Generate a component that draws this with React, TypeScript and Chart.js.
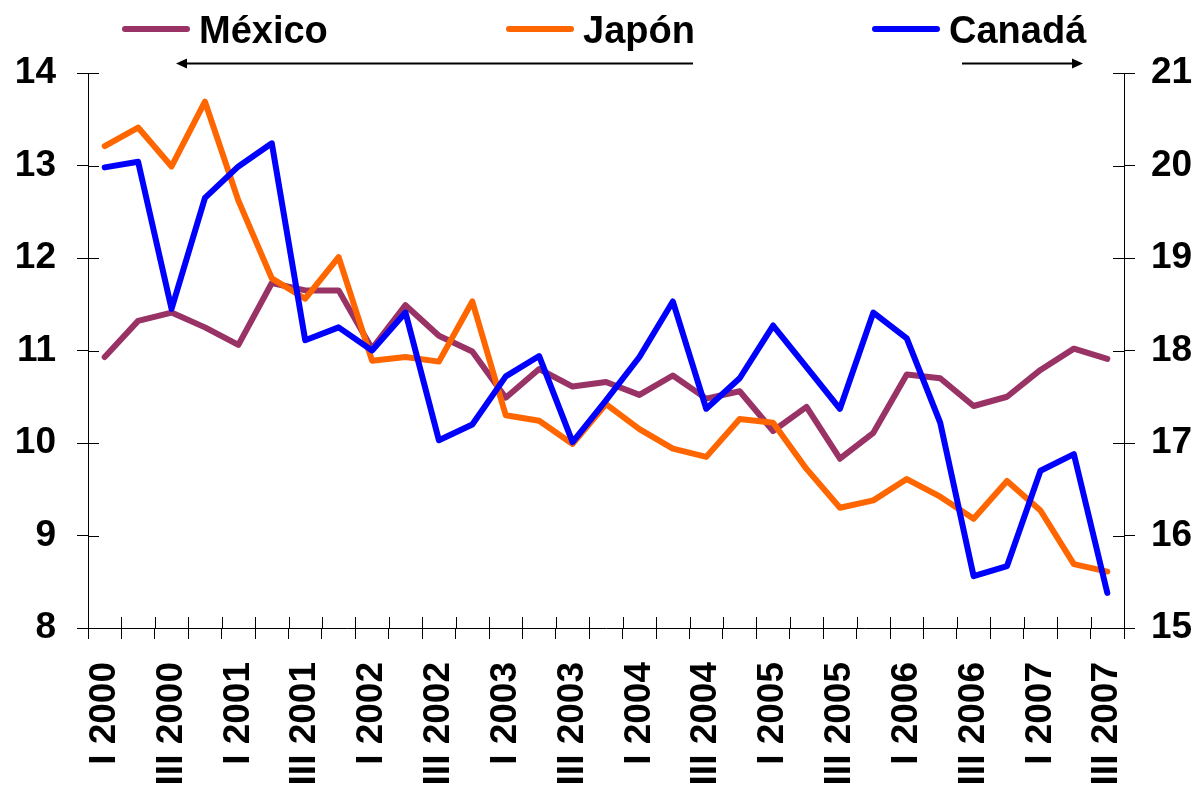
import React, { useEffect, useRef } from 'react';
import { Chart, registerables } from 'chart.js';

Chart.register(...registerables);

const categories = [
  'I 2000', 'II 2000', 'III 2000', 'IV 2000',
  'I 2001', 'II 2001', 'III 2001', 'IV 2001',
  'I 2002', 'II 2002', 'III 2002', 'IV 2002',
  'I 2003', 'II 2003', 'III 2003', 'IV 2003',
  'I 2004', 'II 2004', 'III 2004', 'IV 2004',
  'I 2005', 'II 2005', 'III 2005', 'IV 2005',
  'I 2006', 'II 2006', 'III 2006', 'IV 2006',
  'I 2007', 'II 2007', 'III 2007',
];

const mexico = [
  10.93, 11.32, 11.41, 11.25, 11.06, 11.73, 11.65, 11.65,
  11.02, 11.49, 11.16, 10.99, 10.49, 10.8, 10.61, 10.66,
  10.52, 10.73, 10.48, 10.56, 10.13, 10.39, 9.83, 10.11,
  10.74, 10.7, 10.4, 10.5, 10.79, 11.02, 10.91,
];

const japon = [
  13.21, 13.41, 12.99, 13.69, 12.62, 11.78, 11.56, 12.01,
  10.89, 10.93, 10.88, 11.53, 10.3, 10.24, 9.99, 10.42,
  10.15, 9.94, 9.85, 10.26, 10.22, 9.72, 9.3, 9.38,
  9.61, 9.42, 9.18, 9.59, 9.27, 8.69, 8.61,
];

const canada = [
  19.98, 20.04, 18.45, 19.65, 19.99, 20.24, 18.11, 18.25,
  18.0, 18.41, 17.03, 17.2, 17.72, 17.94, 17.01, 17.46,
  17.93, 18.53, 17.37, 17.7, 18.27, 17.82, 17.37, 18.41,
  18.13, 17.22, 15.56, 15.67, 16.7, 16.88, 15.38,
];

const seriesNames = ['México', 'Japón', 'Canadá'];
const seriesColors = ['#993366', '#FF6600', '#0000FF'];

const leftMin = 8;
const leftMax = 14;
const rightMin = 15;
const rightMax = 21;

const FONT = '"Liberation Sans", Arial, Helvetica, sans-serif';

const overlayPlugin = {
  id: 'overlay',
  afterDraw(chart: any) {
    const ctx = chart.ctx as CanvasRenderingContext2D;
    const { left, right, bottom } = chart.chartArea;
    const xs = chart.scales.x;
    const yl = chart.scales.y;
    const yr = chart.scales.y1;
    const tl = 11;
    ctx.save();
    ctx.strokeStyle = '#000';
    ctx.lineWidth = 1;
    const seg = (x1: number, y1: number, x2: number, y2: number) => {
      ctx.beginPath();
      ctx.moveTo(x1, y1);
      ctx.lineTo(x2, y2);
      ctx.stroke();
    };
    // inner halves of crossing tick marks
    const n = xs.ticks.length;
    const step = (right - left) / n;
    for (let i = 0; i <= n; i++) {
      const px = Math.round(left + i * step) + 0.5;
      seg(px, bottom - tl, px, bottom);
    }
    yl.ticks.forEach((t: any) => {
      const py = Math.round(yl.getPixelForValue(t.value)) + 0.5;
      seg(left, py, left + tl, py);
    });
    yr.ticks.forEach((t: any) => {
      const py = Math.round(yr.getPixelForValue(t.value)) + 0.5;
      seg(right - tl, py, right, py);
    });

    // legend
    const legendX = [122, 506, 872];
    const lineLen = 68;
    const lineY = 29;
    ctx.font = `bold 38px ${FONT}`;
    ctx.textBaseline = 'alphabetic';
    ctx.textAlign = 'left';
    chart.data.datasets.forEach((ds: any, i: number) => {
      const x0 = legendX[i];
      ctx.strokeStyle = ds.borderColor;
      ctx.lineWidth = 6;
      ctx.lineCap = 'round';
      seg(x0 + 3, lineY, x0 + lineLen - 3, lineY);
      ctx.fillStyle = '#000';
      ctx.fillText(ds.label, x0 + lineLen + 9, 43);
    });

    // axis arrows
    ctx.strokeStyle = '#000';
    ctx.fillStyle = '#000';
    ctx.lineWidth = 2;
    ctx.lineCap = 'butt';
    const arrowY = 63.5;
    const arrow = (from: number, to: number) => {
      const dir = to > from ? 1 : -1;
      seg(from, arrowY, to - dir * 8, arrowY);
      ctx.beginPath();
      ctx.moveTo(to, arrowY);
      ctx.lineTo(to - dir * 11, arrowY - 5);
      ctx.lineTo(to - dir * 11, arrowY + 5);
      ctx.closePath();
      ctx.fill();
    };
    arrow(693, 176);
    arrow(962, 1083);
    ctx.restore();
  },
};

export default function App() {
  const canvasRef = useRef<HTMLCanvasElement | null>(null);

  useEffect(() => {
    if (!canvasRef.current) return;
    Chart.defaults.font.family = FONT;
    const ds = [mexico, japon, canada].map((data, i) => ({
      label: seriesNames[i],
      data,
      borderColor: seriesColors[i],
      backgroundColor: seriesColors[i],
      borderWidth: 6,
      pointRadius: 0,
      pointHoverRadius: 0,
      tension: 0,
      fill: false,
      borderJoinStyle: 'round' as const,
      borderCapStyle: 'round' as const,
      yAxisID: i === 2 ? 'y1' : 'y',
      order: 3 - i,
    }));

    const tickFont = { size: 37, weight: 'bold' as const, family: FONT };

    const chart = new Chart(canvasRef.current, {
      type: 'line',
      data: { labels: categories, datasets: ds },
      options: {
        animation: false,
        responsive: false,
        layout: { padding: { top: 73, left: 15, right: 9, bottom: 0 } },
        plugins: {
          legend: { display: false },
          tooltip: { enabled: false },
        },
        scales: {
          x: {
            type: 'category',
            offset: true,
            afterFit: (s: any) => { s.height = 157; s.paddingLeft = 0; s.paddingRight = 0; },
            grid: {
              offset: true,
              drawOnChartArea: false,
              drawTicks: true,
              tickLength: 11,
              color: '#000',
            },
            border: { display: true, color: '#000', width: 1 },
            ticks: {
              autoSkip: false,
              maxRotation: 90,
              minRotation: 90,
              padding: 23,
              color: '#000',
              font: tickFont,
              callback: (_v: any, index: number) => (index % 2 === 0 ? categories[index] : ''),
            },
          },
          y: {
            position: 'left',
            min: leftMin,
            max: leftMax,
            afterFit: (s: any) => { s.width = 73; s.paddingTop = 0; s.paddingBottom = 0; },
            grid: { drawOnChartArea: false, drawTicks: true, tickLength: 11, color: '#000' },
            border: { display: true, color: '#000', width: 1 },
            ticks: { stepSize: 1, padding: 21, color: '#000', font: tickFont },
          },
          y1: {
            position: 'right',
            min: rightMin,
            max: rightMax,
            afterFit: (s: any) => { s.width = 68; s.paddingTop = 0; s.paddingBottom = 0; },
            grid: { drawOnChartArea: false, drawTicks: true, tickLength: 11, color: '#000' },
            border: { display: true, color: '#000', width: 1 },
            ticks: { stepSize: 1, padding: 16, color: '#000', font: tickFont },
          },
        },
      },
      plugins: [overlayPlugin],
    });
    return () => chart.destroy();
  }, []);

  return (
    <div style={{ position: 'fixed', left: 0, top: 0, width: 1201, height: 785, background: '#fff' }}>
      <canvas ref={canvasRef} width={1201} height={785} style={{ display: 'block' }} />
    </div>
  );
}
